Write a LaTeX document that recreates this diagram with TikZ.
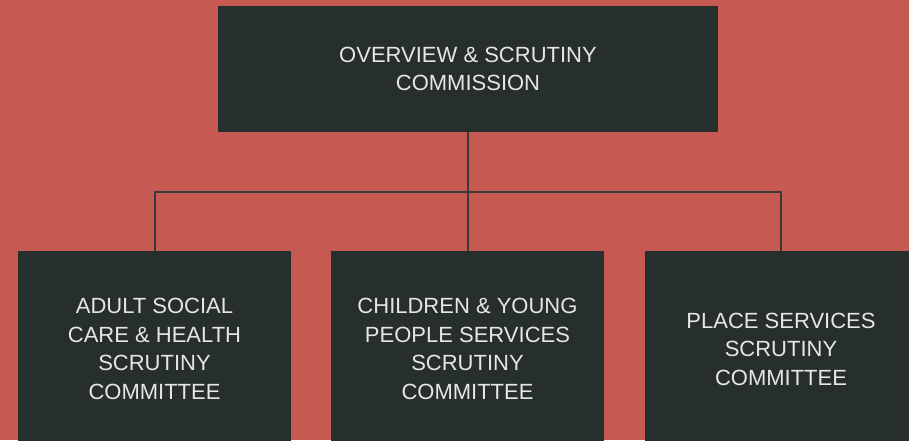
\documentclass[tikz,border=0pt]{standalone}
\usepackage{fontspec}
\setmainfont{Liberation Sans}
\definecolor{bgred}{HTML}{C65A52}
\definecolor{boxdark}{HTML}{262E2E}
\definecolor{txtlight}{HTML}{E6E6E6}
\definecolor{linedark}{HTML}{363A3A}
\tikzset{
  orgbox/.style={fill=boxdark, draw=none, text=txtlight, align=center, inner sep=0pt,
    font=\fontsize{22}{28.5}\selectfont},
  conn/.style={draw=linedark, line width=2pt}
}
\begin{document}
\begin{tikzpicture}[x=1pt,y=-1pt]
\useasboundingbox (0,0) rectangle (909,440);
\clip (0,0) rectangle (909,440);
\fill[bgred] (0,0) rectangle (909,440);
\node[orgbox, minimum width=500pt, minimum height=126pt] (top) at (468,69) {OVERVIEW \& SCRUTINY\\COMMISSION};
\node[orgbox, minimum width=273pt, minimum height=196pt] (b1) at (154.5,349) {ADULT SOCIAL\\CARE \& HEALTH\\SCRUTINY\\COMMITTEE};
\node[orgbox, minimum width=273pt, minimum height=196pt] (b2) at (467.5,349) {CHILDREN \& YOUNG\\PEOPLE SERVICES\\SCRUTINY\\COMMITTEE};
\node[orgbox, minimum width=272pt, minimum height=196pt] (b3) at (781,349) {PLACE SERVICES\\SCRUTINY\\COMMITTEE};
\coordinate (mid) at (468,192);
\draw[conn] (top.south) -- (mid);
\draw[conn] (b1.north -| 155,0) |- (mid) -| (b3.north);
\draw[conn] (mid) -- (b2.north -| mid);
\end{tikzpicture}
\end{document}
